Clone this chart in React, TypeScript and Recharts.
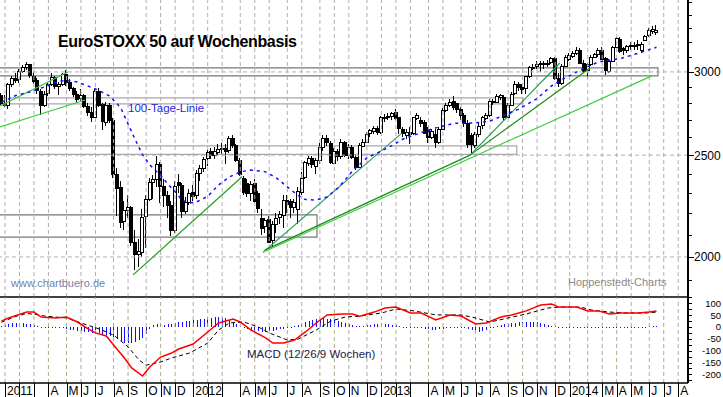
import { Bar, ComposedChart, Line, ReferenceArea, ReferenceLine, XAxis, YAxis } from "recharts";

const FONT = '"Liberation Sans", Arial, sans-serif';

// week index 0 = week of 3 Jan 2011, data starts one week earlier
const FIRST_WEEK = -1;

const opens = [
  2850, 2800, 2790, 2920, 2960, 2950, 3005, 3030, 3050, 2975,
  2945, 2880, 2790, 2860, 2920, 2965, 2910, 2920, 2985, 2935,
  2895, 2860, 2830, 2850, 2785, 2750, 2720, 2880, 2795, 2690,
  2790, 2700, 2400, 2330, 2160, 2215, 2230, 2065, 2010, 2025,
  2185, 2270, 2355, 2370, 2450, 2335, 2290, 2240, 2120, 2355,
  2340, 2210, 2255, 2305, 2290, 2405, 2430, 2480, 2520, 2500,
  2520, 2535, 2540, 2525, 2595, 2555, 2475, 2380, 2350, 2300,
  2350, 2300, 2180, 2140, 2175, 2075, 2150, 2180, 2190, 2265,
  2260, 2230, 2220, 2310, 2380, 2460, 2485, 2445, 2475, 2545,
  2595, 2570, 2460, 2525, 2495, 2575, 2500, 2545, 2490, 2435,
  2555, 2575, 2620, 2640, 2655, 2630, 2715, 2720, 2725, 2750,
  2715, 2650, 2615, 2630, 2620, 2715, 2700, 2690, 2640, 2600,
  2620, 2575, 2650, 2760, 2790, 2815, 2800, 2765, 2730, 2680,
  2610, 2560, 2620, 2665, 2715, 2730, 2815, 2810, 2835, 2840,
  2720, 2790, 2860, 2920, 2905, 2895, 2970, 3030, 3035, 3050,
  3060, 3050, 3060, 3090, 2960, 2930, 3040, 3080, 3110, 3130,
  3150, 3060, 3010, 3050, 3100, 3120, 3150, 3090, 3010, 3075,
  3170, 3225, 3160, 3145, 3175, 3180, 3185, 3150, 3215, 3250,
  3280, 3275,
];
const highs = [
  2862, 2855, 2930, 2975, 2995, 3020, 3045, 3068, 3055, 3000,
  2960, 2890, 2880, 2930, 2990, 2975, 2935, 2990, 3012, 2955,
  2905, 2875, 2890, 2860, 2800, 2780, 2890, 2895, 2800, 2810,
  2805, 2710, 2430, 2360, 2260, 2290, 2235, 2120, 2080, 2220,
  2290, 2380, 2395, 2495, 2460, 2370, 2310, 2260, 2360, 2400,
  2350, 2280, 2320, 2340, 2420, 2445, 2490, 2530, 2540, 2545,
  2560, 2565, 2560, 2605, 2612, 2560, 2485, 2390, 2370, 2360,
  2370, 2310, 2220, 2180, 2190, 2165, 2200, 2210, 2290, 2290,
  2270, 2270, 2330, 2410, 2470, 2495, 2495, 2485, 2565, 2610,
  2615, 2580, 2540, 2535, 2590, 2580, 2560, 2555, 2500, 2565,
  2590, 2630, 2650, 2665, 2665, 2725, 2735, 2740, 2750, 2765,
  2720, 2660, 2650, 2660, 2720, 2740, 2720, 2700, 2660, 2650,
  2650, 2660, 2770, 2800, 2825, 2845, 2805, 2775, 2740, 2700,
  2625, 2630, 2680, 2725, 2740, 2830, 2830, 2860, 2860, 2850,
  2800, 2870, 2940, 2935, 2920, 2975, 3040, 3050, 3070, 3075,
  3070, 3080, 3100, 3100, 2990, 3050, 3115, 3125, 3140, 3170,
  3160, 3080, 3060, 3110, 3130, 3160, 3165, 3100, 3085, 3175,
  3240, 3240, 3165, 3185, 3200, 3200, 3220, 3200, 3255, 3300,
  3320, 3325,
];
const lows = [
  2790, 2775, 2765, 2900, 2925, 2930, 2990, 3015, 2960, 2920,
  2860, 2730, 2775, 2845, 2910, 2890, 2855, 2910, 2910, 2880,
  2840, 2800, 2815, 2770, 2725, 2690, 2710, 2780, 2640, 2665,
  2680, 2380, 2190, 2130, 2120, 2180, 2050, 1945, 1955, 2000,
  2040, 2260, 2270, 2330, 2250, 2230, 2180, 2095, 2110, 2300,
  2180, 2195, 2240, 2260, 2270, 2360, 2410, 2440, 2480, 2480,
  2500, 2505, 2450, 2510, 2540, 2460, 2390, 2290, 2280, 2260,
  2250, 2200, 2100, 2110, 2060, 2050, 2110, 2150, 2130, 2200,
  2180, 2200, 2150, 2290, 2370, 2440, 2430, 2400, 2450, 2520,
  2550, 2450, 2450, 2470, 2480, 2490, 2480, 2480, 2420, 2430,
  2545, 2565, 2600, 2620, 2610, 2620, 2690, 2700, 2700, 2700,
  2620, 2600, 2590, 2560, 2610, 2700, 2660, 2620, 2570, 2590,
  2540, 2560, 2640, 2750, 2780, 2760, 2740, 2700, 2660, 2540,
  2510, 2540, 2600, 2650, 2700, 2720, 2790, 2800, 2820, 2700,
  2710, 2785, 2850, 2880, 2860, 2860, 2960, 3010, 3020, 3000,
  3020, 3030, 3050, 2945, 2905, 2915, 3035, 3070, 3095, 3115,
  3050, 2990, 2960, 3040, 3090, 3100, 3080, 2980, 2990, 3070,
  3160, 3130, 3110, 3130, 3150, 3150, 3150, 3130, 3210, 3240,
  3260, 3255,
];
const closes = [
  2800, 2790, 2920, 2960, 2950, 3005, 3030, 3050, 2975, 2945,
  2880, 2790, 2860, 2920, 2965, 2910, 2920, 2985, 2935, 2895,
  2860, 2830, 2850, 2785, 2750, 2720, 2880, 2795, 2690, 2790,
  2700, 2400, 2330, 2160, 2215, 2230, 2065, 2010, 2025, 2185,
  2270, 2355, 2370, 2450, 2335, 2290, 2240, 2120, 2335, 2340,
  2210, 2255, 2300, 2285, 2405, 2430, 2480, 2515, 2500, 2520,
  2535, 2540, 2525, 2595, 2555, 2475, 2400, 2310, 2300, 2345,
  2260, 2225, 2135, 2170, 2070, 2150, 2180, 2195, 2265, 2245,
  2230, 2255, 2310, 2380, 2460, 2485, 2450, 2475, 2545, 2595,
  2575, 2465, 2525, 2495, 2575, 2500, 2545, 2490, 2435, 2555,
  2575, 2620, 2640, 2655, 2630, 2715, 2720, 2725, 2740, 2715,
  2650, 2625, 2630, 2620, 2715, 2730, 2680, 2625, 2600, 2635,
  2575, 2650, 2760, 2790, 2810, 2780, 2765, 2730, 2680, 2560,
  2560, 2620, 2665, 2715, 2730, 2815, 2810, 2845, 2850, 2720,
  2790, 2860, 2920, 2900, 2895, 2970, 3030, 3035, 3050, 3060,
  3050, 3060, 3090, 2955, 2925, 3040, 3100, 3110, 3130, 3150,
  3060, 3010, 3050, 3100, 3120, 3150, 3090, 3010, 3075, 3170,
  3230, 3140, 3145, 3175, 3180, 3185, 3190, 3190, 3245, 3285,
  3295, 3290,
];

// 100-Tage-Linie, read at selected weeks [week, value]
const ma100: [number, number][] = [
  [-1, 2808], [3, 2849], [7, 2872], [11, 2904], [15, 2940], [17, 2945], [20, 2935], [25, 2890],
  [29, 2845], [32, 2772], [34, 2677], [36, 2585], [38, 2503], [40, 2447], [43, 2391], [45, 2347],
  [47, 2307], [49, 2264], [51, 2251], [53, 2257], [56, 2284], [59, 2342], [62, 2383], [65, 2410],
  [68, 2420], [72, 2410], [75, 2378], [78, 2332], [81, 2288], [83, 2268], [86, 2266], [89, 2281],
  [92, 2327], [94, 2368], [96, 2415], [100, 2485], [103, 2513], [107, 2554], [110, 2590], [114, 2619],
  [118, 2648], [121, 2665], [124, 2680], [130, 2683], [134, 2694], [138, 2730], [142, 2766], [147, 2830],
  [151, 2910], [154, 2951], [159, 3013], [164, 3067], [170, 3089], [175, 3126], [180, 3166],
];

const macdLine: [number, number][] = [
  [-1, 25], [1, 38], [6, 63], [8, 63], [10, 42], [14, 38], [17, 42], [20, 21], [23, -8], [25, -25],
  [28, -38], [30, -76], [33, -131], [35, -173], [38, -207], [40, -169], [43, -127], [46, -110],
  [48, -93], [52, -72], [56, -21], [59, 17], [63, 34], [65, 21], [68, -13], [72, -46], [74, -68],
  [77, -68], [80, -55], [83, -21], [86, 17], [89, 51], [93, 55], [96, 55], [98, 46], [102, 63],
  [105, 80], [108, 84], [112, 59], [115, 59], [119, 30], [123, 51], [126, 46], [130, 13], [133, 17],
  [137, 42], [140, 51], [144, 68], [148, 93], [151, 97], [153, 84], [158, 84], [161, 68], [164, 68],
  [167, 55], [170, 59], [175, 59], [178, 63], [180, 68],
];
const signalLine: [number, number][] = [
  [-1, 20], [3, 45], [6, 57], [9, 52], [11, 46], [17, 38], [21, 17], [26, -8], [30, -34], [34, -84],
  [37, -139], [39, -161], [43, -148], [46, -131], [51, -110], [56, -68], [59, -13], [62, 17], [66, 21],
  [70, 0], [73, -25], [78, -55], [81, -51], [86, -13], [90, 25], [94, 42], [98, 46], [104, 59],
  [108, 76], [113, 68], [119, 51], [126, 51], [129, 42], [134, 21], [139, 38], [144, 55], [150, 80],
  [153, 84], [159, 84], [162, 72], [167, 63], [172, 59], [177, 59], [180, 63],
];
const macdHist = [
  5, 10, 14, 16, 17, 18, 16, 14, 12, 10,
  4, 0, -2, -2, -1, -2, -3, -5, -8, -11,
  -14, -16, -18, -20, -22, -24, -22, -25, -28, -32,
  -38, -45, -52, -60, -66, -68, -66, -62, -56, -48,
  -30, -8, 10, 14, 12, 10, 12, 14, 17, 20,
  22, 24, 26, 28, 30, 32, 35, 38, 40, 42,
  42, 40, 36, 30, 22, 12, 4, -5, -10, -14,
  -17, -19, -20, -20, -18, -16, -13, -10, -7, -4,
  -2, 3, 8, 14, 20, 26, 30, 33, 35, 36,
  35, 32, 28, 24, 20, 16, 12, 8, 5, 3,
  6, 8, 10, 12, 14, 15, 14, 12, 10, 8,
  3, 1, -1, -3, -4, -5, -6, -8, -10, -12,
  -12, -10, -7, -4, -2, 0, 1, 0, -3, -8,
  -14, -20, -22, -18, -12, -4, 2, 6, 9, 12,
  14, 16, 18, 19, 20, 21, 22, 21, 20, 18,
  14, 10, 6, 3, 1, 0, -1, 0, 1, 2,
  1, 0, -1, -2, -2, -1, 0, -1, -2, -3,
  -2, -1, 0, 1, 0, -1, 0, 1, 2, 3,
  3, 4,
];

const monthWeeks = [
  0, 4, 8, 12, 17, 21, 25, 30, 34, 39, 43, 47,
  52, 56, 60, 65, 69, 73, 78, 82, 87, 91, 95, 100,
  104, 108, 112, 117, 121, 126, 130, 134, 139, 143, 147, 152,
  156, 161, 165, 169, 173, 178, 182, 186,
];
const monthLabels = [
  "2011", "", "", "A", "M", "J", "J", "A", "S", "O", "N", "D",
  "2012", "", "", "A", "M", "J", "J", "A", "S", "O", "N", "D",
  "2013", "", "", "A", "M", "J", "J", "A", "S", "O", "N", "D",
  "2014", "", "M", "A", "M", "J", "J", "A",
];

const priceTicks = [1900, 2000, 2100, 2200, 2300, 2400, 2500, 2600, 2700, 2800, 2900, 3000, 3100, 3200, 3300, 3400, 3500];
const priceLabels = [2000, 2500, 3000];
const macdTicks = [-225, -200, -175, -150, -125, -100, -75, -50, -25, 0, 25, 50, 75, 100, 125];
const macdLabels = [-200, -150, -100, -50, 0, 50, 100];

// support zones drawn on the chart: price band and last week covered
const zones = [
  { low: 2974, high: 3026, until: 180.4 },
  { low: 2797, high: 2834, until: 143.1 },
  { low: 2504, high: 2551, until: 141.4 },
  { low: 2089, high: 2193, until: 86.2 },
];
const zoneColors = ["#6f7d6f", "#aaa6aa", "#aaa6aa", "#6f7d6f"];

// trend lines [week, price] -> [week, price]
const trendlines: [[number, number], [number, number]][] = [
  [[-1.38, 2659], [22.1, 2821]],
  [[-1.38, 2785], [17.4, 3000]],
  [[35.4, 1923], [65.5, 2384]],
  [[71.3, 2021], [109.7, 2625]],
  [[71.8, 2030], [128.5, 2500]],
  [[71.3, 2021], [178.7, 2974]],
  [[128.5, 2500], [161.6, 3026]],
  [[128.5, 2500], [153.3, 3059]],
];
const trendColors = ["#3fcf3f", "#3cc63c", "#1f9f1f", "#3a9e6a", "#1a8c1a", "#3fcf3f", "#1a8c1a", "#2a9a55"];

const X_DOMAIN: [number, number] = [-1.38, 188.7];
const PRICE_DOMAIN: [number, number] = [1832, 3512];
const MACD_DOMAIN: [number, number] = [-236.6, 126.7];

const maMap = new Map(ma100);
const macdMap = new Map(macdLine);
const signalMap = new Map(signalLine);

const rows = opens.map((o, i) => {
  const w = FIRST_WEEK + i;
  return {
    w,
    o,
    h: highs[i],
    l: lows[i],
    c: closes[i],
    range: [lows[i], highs[i]],
    ma: maMap.get(w) ?? null,
    macd: macdMap.get(w) ?? null,
    signal: signalMap.get(w) ?? null,
    hist: macdHist[i],
  };
});

function Candle(props: any) {
  const { x, y, width, height, payload } = props;
  if (!payload || !isFinite(y) || !isFinite(height)) return null;
  const top = Math.min(y, y + height);
  const span = Math.abs(height);
  const lh = Math.log(payload.h);
  const ll = Math.log(payload.l);
  const py = (v: number) => top + (span * (lh - Math.log(v))) / (lh - ll || 1);
  const r = Math.round(x + width / 2);
  const yo = py(payload.o);
  const yc = py(payload.c);
  const up = payload.c >= payload.o;
  const bt = Math.round(Math.min(yo, yc));
  const bh = Math.max(1, Math.round(Math.abs(yc - yo)));
  return (
    <g>
      <line x1={r - 0.5} x2={r - 0.5} y1={Math.round(top)} y2={Math.round(top + span)} stroke="#000" strokeWidth={1} />
      <rect x={r - 1.5} y={bt + 0.5} width={3} height={bh} fill={up ? "#fff" : "#000"} stroke="#000" strokeWidth={1} />
    </g>
  );
}

function HistBar(props: any) {
  const { x, y, width, height } = props;
  if (!isFinite(y) || !isFinite(height)) return null;
  const top = Math.min(y, y + height);
  return <rect x={Math.round(x + width / 2)} y={Math.round(top)} width={1} height={Math.max(1, Math.round(Math.abs(height)))} fill="#1010ff" />;
}

function PriceTick({ x, y, payload }: any) {
  const major = priceLabels.includes(payload.value);
  const yy = Math.round(y) + 0.5;
  return (
    <g>
      <line x1={x} x2={x + (major ? 6 : 4)} y1={yy} y2={yy} stroke="#000" />
      {major && (
        <text x={x + 6} y={y + 4.5} fontSize={12} fontFamily={FONT} fill="#000">
          {payload.value}
        </text>
      )}
    </g>
  );
}

function MacdTick({ x, y, payload }: any) {
  const yy = Math.round(y) + 0.5;
  const labelled = macdLabels.includes(payload.value);
  return (
    <g>
      <line x1={x} x2={x + 4} y1={yy} y2={yy} stroke="#000" />
      {labelled && (
        <text x={x + 33} y={y + 3.5} fontSize={9.5} fontFamily={FONT} fill="#000" textAnchor="end">
          {payload.value}
        </text>
      )}
    </g>
  );
}

function MonthTick({ x, y, payload }: any) {
  const label = monthLabels[monthWeeks.indexOf(payload.value)] ?? "";
  const px = Math.round(x) + 0.5;
  return (
    <g>
      <line x1={px} x2={px} y1={y} y2={y + 14} stroke="#000" />
      {label && (
        <text x={x + 2} y={y + 11.5} fontSize={12} fontFamily={FONT} fill="#000">
          {label}
        </text>
      )}
    </g>
  );
}

export default function App() {
  return (
    <div style={{ position: "absolute", left: 0, top: 0, width: 723, height: 397, background: "#fff" }}>
      <div style={{ position: "absolute", left: 0, top: 0 }}>
        <ComposedChart width={723} height={299} data={rows} margin={{ top: 0, right: 0, bottom: 0, left: 0 }}>
          <XAxis
            type="number"
            dataKey="w"
            domain={X_DOMAIN}
            allowDataOverflow
            height={2}
            tick={false}
            tickLine={false}
            axisLine={{ stroke: "#000", strokeWidth: 1.5 }}
          />
          <YAxis
            orientation="right"
            scale="log"
            domain={PRICE_DOMAIN}
            allowDataOverflow
            ticks={priceTicks}
            interval={0}
            width={35}
            tickSize={0}
            tickMargin={0}
            tick={<PriceTick />}
            axisLine={{ stroke: "#000", strokeWidth: 2 }}
          />
          {monthWeeks.map((m) => (
            <ReferenceLine key={"g" + m} x={m} stroke="#b8aab8" strokeDasharray="4 3" ifOverflow="hidden" />
          ))}
          {priceLabels.map((p) => (
            <ReferenceLine key={"h" + p} y={p} stroke="#b8aab8" strokeDasharray="4 3" ifOverflow="hidden" />
          ))}
          {zones.map((z, i) => (
            <ReferenceArea
              key={"z" + i}
              x1={X_DOMAIN[0] - 2}
              x2={z.until}
              y1={z.low}
              y2={z.high}
              fill="none"
              fillOpacity={0}
              stroke={zoneColors[i]}
              strokeWidth={1.2}
              ifOverflow="hidden"
            />
          ))}
          {trendlines.map((t, i) => (
            <ReferenceLine
              key={"t" + i}
              segment={[
                { x: t[0][0], y: t[0][1] },
                { x: t[1][0], y: t[1][1] },
              ]}
              stroke={trendColors[i]}
              strokeWidth={1.2}
              ifOverflow="hidden"
            />
          ))}
          <Line
            dataKey="ma"
            type="linear"
            connectNulls
            dot={false}
            activeDot={false}
            stroke="#1010ff"
            strokeWidth={1.5}
            strokeDasharray="3 4"
            isAnimationActive={false}
          />
          <Bar dataKey="range" barSize={4} shape={<Candle />} activeBar={false} isAnimationActive={false} />
        </ComposedChart>
      </div>
      <div style={{ position: "absolute", left: 0, top: 297 }}>
        <ComposedChart width={723} height={100} data={rows} margin={{ top: 0, right: 0, bottom: 0, left: 0 }}>
          <XAxis
            type="number"
            dataKey="w"
            domain={X_DOMAIN}
            allowDataOverflow
            ticks={monthWeeks}
            interval={0}
            height={14}
            tickSize={0}
            tickMargin={0}
            tick={<MonthTick />}
            axisLine={{ stroke: "#000", strokeWidth: 1.5 }}
          />
          <YAxis
            orientation="right"
            domain={MACD_DOMAIN}
            allowDataOverflow
            ticks={macdTicks}
            interval={0}
            width={35}
            tickSize={0}
            tickMargin={0}
            tick={<MacdTick />}
            axisLine={{ stroke: "#000", strokeWidth: 2 }}
          />
          {monthWeeks.map((m) => (
            <ReferenceLine key={"mg" + m} x={m} stroke="#a9ad8c" strokeDasharray="4 3" ifOverflow="hidden" />
          ))}
          <Bar dataKey="hist" barSize={1} shape={<HistBar />} activeBar={false} isAnimationActive={false} />
          <Line
            dataKey="signal"
            type="linear"
            connectNulls
            dot={false}
            activeDot={false}
            stroke="#000"
            strokeWidth={1}
            strokeDasharray="4 3"
            isAnimationActive={false}
          />
          <Line
            dataKey="macd"
            type="linear"
            connectNulls
            dot={false}
            activeDot={false}
            stroke="#ff0000"
            strokeWidth={1.5}
            isAnimationActive={false}
          />
        </ComposedChart>
      </div>
      <svg width={723} height={397} style={{ position: "absolute", left: 0, top: 0, pointerEvents: "none" }}>
        <text x={58} y={47} fontSize={16} fontWeight="bold" letterSpacing={-0.35} fontFamily={FONT} fill="#000">
          EuroSTOXX 50 auf Wochenbasis
        </text>
        <text x={128} y={112} fontSize={11.5} fontFamily={FONT} fill="#1f1fe0">
          100-Tage-Linie
        </text>
        <text x={11} y={287} fontSize={11} fontFamily={FONT} fill="#7484a4">
          www.chartbuero.de
        </text>
        <text x={568} y={286} fontSize={11} fontFamily={FONT} fill="#8a8a8a">
          Hoppenstedt-Charts
        </text>
        <text x={247} y={358} fontSize={11.5} fontFamily={FONT} fill="#22224a">
          MACD (12/26/9 Wochen)
        </text>
      </svg>
    </div>
  );
}
